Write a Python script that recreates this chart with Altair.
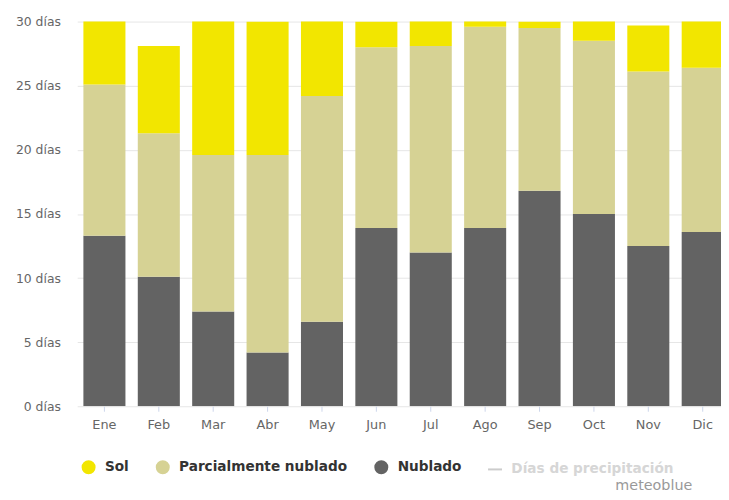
import altair as alt
import pandas as pd

meses = ["Ene", "Feb", "Mar", "Abr", "May", "Jun", "Jul", "Ago", "Sep", "Oct", "Nov", "Dic"]
sol = [5.9, 6.8, 11.4, 10.4, 6.8, 2.0, 2.9, 1.4, 0.5, 2.5, 3.6, 4.6]
parcial = [11.8, 11.2, 12.2, 15.4, 17.6, 14.1, 16.1, 15.7, 12.7, 13.5, 13.6, 12.8]
nublado = [13.3, 10.1, 7.4, 4.2, 6.6, 13.9, 12.0, 13.9, 16.8, 15.0, 12.5, 13.6]
series = ["Sol", "Parcialmente nublado", "Nublado", "Días de precipitación"]
colores = ["#f2e600", "#d6d294", "#636363", "#cccccc"]
y_ticks = [0, 5, 10, 15, 20, 25, 30]
credito = ["meteoblue"]

rows = []
for i, m in enumerate(meses):
    for s, vals, orden in [("Nublado", nublado, 0),
                           ("Parcialmente nublado", parcial, 1),
                           ("Sol", sol, 2)]:
        rows.append({"mes": m, "serie": s, "dias": vals[i], "orden": orden})
df = pd.DataFrame(rows)

FONT = "DejaVu Sans"
PRECIP = "datum.label === 'Días de precipitación'"

bars = alt.Chart(df).mark_bar(clip=True).encode(
    x=alt.X(
        "mes:N", sort=meses,
        scale=alt.Scale(range=[0, 660], paddingInner=0.227, paddingOuter=0.1135),
        axis=alt.Axis(title=None, labelAngle=0, domain=False, ticks=True, tickSize=5,
                      tickColor="#ccd6eb", labelPadding=7, labelColor="#666666",
                      labelFontSize=13, labelFont=FONT),
    ),
    y=alt.Y(
        "dias:Q", stack="zero",
        scale=alt.Scale(domain=[0, 30], nice=False, zero=True),
        axis=alt.Axis(title=None, values=y_ticks, labelExpr="datum.value + ' días'",
                      domain=False, ticks=False, gridColor="#e6e6e6", labelPadding=17,
                      labelColor="#666666", labelFontSize=12.5, labelFont=FONT),
    ),
    color=alt.Color(
        "serie:N",
        scale=alt.Scale(domain=series, range=colores),
        legend=alt.Legend(
            title=None, orient="none", legendX=3, legendY=442, direction="horizontal",
            labelFont=FONT, labelFontSize=13.8, labelFontWeight="bold",
            labelColor=alt.ExprRef(PRECIP + " ? '#d6d6d6' : '#333333'"),
            symbolType=alt.ExprRef(PRECIP + " ? 'stroke' : 'circle'"),
            symbolStrokeColor=alt.ExprRef(PRECIP + " ? '#cccccc' : 'transparent'"),
            symbolStrokeWidth=2, symbolSize=200, columnPadding=22, labelOffset=8,
            labelLimit=400,
        ),
    ),
    order=alt.Order("orden:Q", sort="ascending"),
)

credit = alt.Chart(pd.DataFrame({"t": credito})).mark_text(
    align="right", baseline="middle", font=FONT, fontSize=14.5, color="#999999"
).encode(x=alt.value(622), y=alt.value(470), text="t:N")

chart = alt.layer(bars, credit).properties(
    width=651, height=389,
    autosize=alt.AutoSizeParams(type="none"),
    padding={"left": 70, "top": 11, "right": 0, "bottom": 90},
    background="white",
).configure_view(stroke=None)

chart.save("out.html", embed_options={"renderer": "svg", "actions": False})
